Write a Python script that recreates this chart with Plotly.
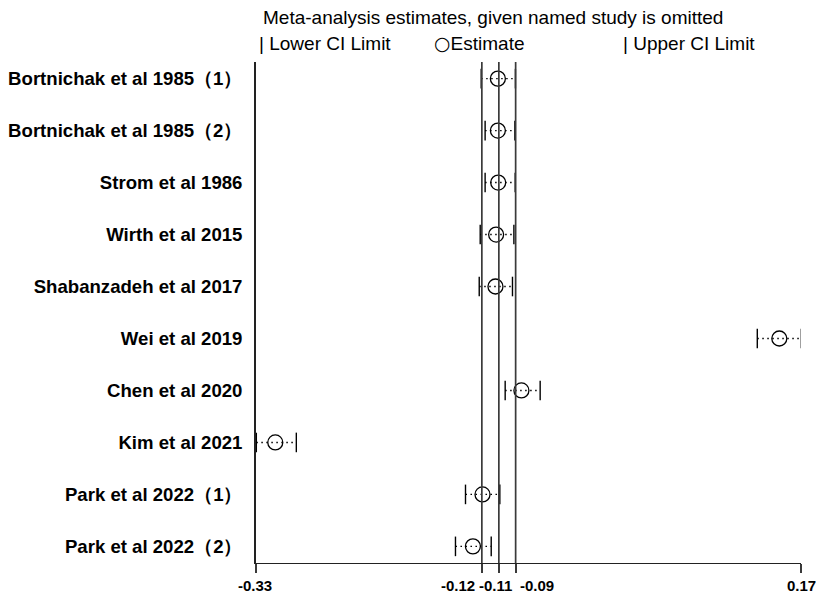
import plotly.graph_objects as go

studies = [
    "Bortnichak et al 1985（1）",
    "Bortnichak et al 1985（2）",
    "Strom et al 1986",
    "Wirth et al 2015",
    "Shabanzadeh et al 2017",
    "Wei et al 2019",
    "Chen et al 2020",
    "Kim et al 2021",
    "Park et al 2022（1）",
    "Park et al 2022（2）",
]
estimate = [-0.1081, -0.1081, -0.1078, -0.1097, -0.1103, 0.1501, -0.0865, -0.3123, -0.1222, -0.1310]
lower_ci = [-0.1234, -0.1198, -0.1198, -0.1243, -0.1252, 0.1299, -0.1014, -0.3297, -0.1378, -0.1470]
upper_ci = [-0.0920, -0.0925, -0.0922, -0.0934, -0.0947, 0.1703, -0.0693, -0.2930, -0.1063, -0.1142]

overall_lower = -0.1228
overall_est = -0.1072
overall_upper = -0.0918

x_ticks = [-0.33, overall_lower, overall_est, overall_upper, 0.17]
x_tick_text = ["-0.33", "-0.12", "-0.11", "-0.09", "0.17"]
x_label_shift = [-1, -24, -3, 21, 0]

FONT = "Liberation Sans, Arial, sans-serif"
rows = list(range(1, len(studies) + 1))

fig = go.Figure()

# dotted CI lines
for i, y in enumerate(rows):
    fig.add_trace(go.Scatter(
        x=[lower_ci[i], upper_ci[i]], y=[y, y], mode="lines",
        line=dict(color="black", width=1.4, dash="1.5px,3.5px"),
        showlegend=False, hoverinfo="skip"))

# caps
fig.add_trace(go.Scatter(
    x=lower_ci + upper_ci, y=rows + rows, mode="markers",
    marker=dict(symbol="line-ns", size=14, line=dict(color="black", width=1.4)),
    showlegend=False, hoverinfo="skip"))

# estimates
fig.add_trace(go.Scatter(
    x=estimate, y=rows, mode="markers",
    marker=dict(symbol="circle-open", size=15, color="black", line=dict(color="black", width=1.3)),
    showlegend=False))

# reference lines
for v in [overall_lower, overall_est, overall_upper]:
    fig.add_shape(type="line", xref="x", yref="paper", x0=v, x1=v, y0=0, y1=1,
                  line=dict(color="#3a3a3a", width=1.7))

fig.update_xaxes(
    range=[-0.33, 0.17], showgrid=False, zeroline=False, automargin=False,
    showline=True, linecolor="#222", linewidth=1.4,
    tickvals=x_ticks, ticks="outside", ticklen=9, showticklabels=False,
    tickcolor="#3a3a3a", tickwidth=1.6)

fig.update_yaxes(
    range=[10.32, 0.68], showgrid=False, zeroline=False, automargin=False,
    showline=True, linecolor="#222", linewidth=1.6,
    tickvals=rows, ticktext=studies, ticks="", ticklabelstandoff=8,
    tickfont=dict(family=FONT, size=18.6, color="black", weight="bold"))

# x tick labels (offset to avoid overlap, as in the reference)
for v, t, s in zip(x_ticks, x_tick_text, x_label_shift):
    fig.add_annotation(text=t, xref="x", yref="paper", x=v, y=0, xshift=s, yshift=-12,
                       xanchor="center", yanchor="top", showarrow=False,
                       font=dict(family=FONT, size=15, color="black", weight="bold"))

W, H = 816, 594
ml, mr, mt, mb = 256, 15, 62, 31
pw, ph = W - ml - mr, H - mt - mb

def px(x):
    return (x - ml) / pw

def py(y):
    return (H - mb - y) / ph

annos = [
    ("Meta-analysis estimates, given named study is omitted", 261, 17),
    ("| Lower CI Limit", 257, 43),
    ("<span style='font-family:DejaVu Sans'>○</span>Estimate", 432, 43),
    ("| Upper CI Limit", 621, 43),
]
for t, x, y in annos:
    fig.add_annotation(text=t, xref="paper", yref="paper", x=px(x), y=py(y),
                       xanchor="left", yanchor="middle", showarrow=False,
                       font=dict(family=FONT, size=19, color="black"))

fig.update_layout(
    width=W, height=H,
    margin=dict(l=ml, r=mr, t=mt, b=mb, autoexpand=False),
    plot_bgcolor="white", paper_bgcolor="white",
    showlegend=False)

fig.write_html("out.html")
